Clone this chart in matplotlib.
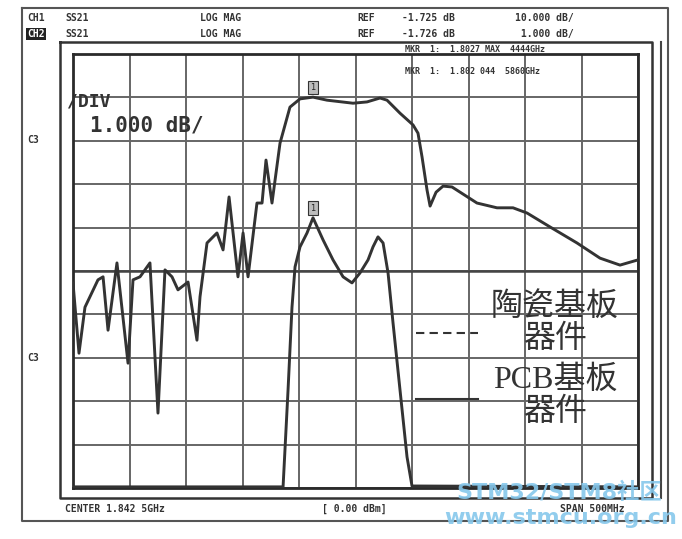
import matplotlib.pyplot as plt
from matplotlib.lines import Line2D

# network analyzer screen: CENTER 1.8425 GHz, SPAN 500 MHz, 1 dB/div, REF -1.726 dB
freq_lo, freq_hi = 1592.5, 2092.5
ref_db = -1.726
db_per_div = 1.0

# upper trace (wide response)
wide_mhz = [1592.5, 1597.8, 1603.1, 1614.6, 1619.1, 1623.5, 1631.4, 1641.2, 1645.6,
            1651.8, 1660.6, 1667.7, 1673.9, 1680.1, 1685.4, 1694.3, 1702.2, 1704.9,
            1711.1, 1719.9, 1725.3, 1730.6, 1738.5, 1743.0, 1747.4, 1755.3, 1759.8,
            1763.3, 1768.6, 1775.7, 1784.5, 1793.4, 1804.9, 1817.3, 1840.3, 1852.7,
            1864.2, 1870.4, 1881.9, 1893.4, 1897.8, 1901.4, 1905.8, 1908.5, 1913.8,
            1920.0, 1927.9, 1950.0, 1967.7, 1981.9, 1994.3, 2014.6, 2038.5, 2058.9,
            2076.6, 2092.5]
wide_db = [-7.00, -8.62, -7.56, -6.93, -6.86, -8.09, -6.54, -8.85, -6.93,
           -6.86, -6.54, -10.00, -6.70, -6.86, -7.16, -6.98, -8.32, -7.32,
           -6.08, -5.85, -6.24, -5.02, -6.86, -5.85, -6.86, -5.16, -5.16,
           -4.17, -5.16, -3.78, -2.95, -2.76, -2.72, -2.79, -2.86, -2.83,
           -2.74, -2.79, -3.09, -3.36, -3.55, -4.10, -4.86, -5.23, -4.91,
           -4.77, -4.79, -5.16, -5.27, -5.27, -5.39, -5.71, -6.08, -6.43,
           -6.59, -6.47]

# lower trace (narrow band)
pcb_mhz = [1592.5, 1778.4, 1782.8, 1786.3, 1789.0, 1793.4, 1799.6, 1804.9, 1813.8,
           1822.6, 1831.5, 1839.4, 1846.5, 1853.6, 1858.0, 1862.4, 1866.9, 1871.3,
           1875.7, 1881.9, 1888.1, 1892.5, 2092.5]
pcb_db = [-11.70, -11.70, -9.47, -7.56, -6.63, -6.17, -5.85, -5.50, -6.01,
          -6.47, -6.86, -7.00, -6.77, -6.47, -6.17, -5.94, -6.08, -6.77,
          -7.92, -9.47, -11.01, -11.68, -11.70]

marker_mhz = 1804.9
marker_db = [-2.72, -5.50]

legend_labels = ["陶瓷基板\n器件", "PCB基板\n器件"]

W, H = 682, 539
ink = "#333333"
grid_c = "#666666"
wm_c = "#86c8ec"


def px(x, y):
    """pixel position (top-left origin) -> figure fraction"""
    return x / W, 1 - y / H


def fig_line(fig, xs, ys, **kw):
    fx = [x / W for x in xs]
    fy = [1 - y / H for y in ys]
    fig.add_artist(Line2D(fx, fy, transform=fig.transFigure, **kw))


def fig_text(fig, x, y, s, **kw):
    fx, fy = px(x, y)
    fig.text(fx, fy, s, **kw)


fig = plt.figure(figsize=(W / 100, H / 100), dpi=100)
fig.patch.set_facecolor("white")

# grid area
ax = fig.add_axes([73 / W, 1 - 488 / H, 565 / W, 434 / H])
ax.set_xlim(freq_lo, freq_hi)
ax.set_ylim(ref_db - 10 * db_per_div, ref_db)
ax.set_xticks([freq_lo + 50 * k for k in range(11)])
ax.set_yticks([ref_db - db_per_div * k for k in range(11)])
ax.tick_params(length=0, labelbottom=False, labelleft=False)
ax.grid(True, color=grid_c, lw=1.4)
ax.axhline(ref_db - 5 * db_per_div, color="#444444", lw=1.8, zorder=2)
for s in ax.spines.values():
    s.set_color("#2a2a2a")
    s.set_linewidth(2)

ax.plot(wide_mhz, wide_db, color=ink, lw=2.1, zorder=3)
ax.plot(pcb_mhz, pcb_db, color=ink, lw=2.1, zorder=3)

for mdb in marker_db:
    ax.annotate("1", (marker_mhz, mdb), xytext=(0, 7), textcoords="offset points",
                ha="center", va="center", fontsize=6, color="#222222",
                bbox=dict(boxstyle="square,pad=0.25", fc="#bdbdbd", ec="#333333", lw=0.8),
                zorder=4)

ax.text(-0.01, 0.89, "/DIV", transform=ax.transAxes, fontsize=13, fontweight="bold",
        family="DejaVu Sans Mono", color="#333333", va="center", ha="left")
ax.text(0.03, 0.835, "1.000 dB/", transform=ax.transAxes, fontsize=15, fontweight="bold",
        family="DejaVu Sans Mono", color="#333333", va="center", ha="left")

# legend drawn in the plot area
fig_line(fig, [416, 478], [333, 333], color=ink, lw=1.5, ls=(0, (4, 2.5)))
fig_line(fig, [416, 478], [399, 399], color=ink, lw=1.5)
cjk = ["Liberation Serif", "Noto Sans CJK SC"]
fig_text(fig, 555, 323, legend_labels[0], ha="center", va="center", fontsize=23,
         family=cjk, color="#333333", linespacing=1.15)
fig_text(fig, 555, 396, legend_labels[1], ha="center", va="center", fontsize=23,
         family=cjk, color="#333333", linespacing=1.15)

# instrument frames
fig_line(fig, [22, 668, 668, 22, 22], [8, 8, 521, 521, 8], color="#555555", lw=1.5)
fig_line(fig, [60, 652, 652, 60, 60], [42, 42, 498, 498, 42], color="#333333", lw=1.8)
fig_line(fig, [661, 661], [42, 498], color="#444444", lw=1.5)

mono = dict(family="DejaVu Sans Mono", fontsize=7, fontweight="bold", color="#333333",
            va="center", ha="left")
fig_text(fig, 27, 18, "CH1", **mono)
fig_text(fig, 27, 34, "CH2", **{**mono, "color": "white"},
         bbox=dict(boxstyle="square,pad=0.1", fc="#222222", ec="none"))
for yy, ref, scale in [(18, "-1.725 dB", "10.000 dB/"), (34, "-1.726 dB", " 1.000 dB/")]:
    fig_text(fig, 65, yy, "SS21", **mono)
    fig_text(fig, 200, yy, "LOG MAG", **mono)
    fig_text(fig, 357, yy, "REF", **mono)
    fig_text(fig, 402, yy, ref, **mono)
    fig_text(fig, 515, yy, scale, **mono)
fig_text(fig, 405, 49, "MKR  1:  1.8027 MAX  4444GHz", **{**mono, "fontsize": 6})
fig_text(fig, 405, 72, "MKR  1:  1.802 044  5860GHz", **{**mono, "fontsize": 6})
fig_text(fig, 27, 140, "C3", **mono)
fig_text(fig, 27, 358, "C3", **mono)
fig_text(fig, 65, 509, "CENTER 1.842 5GHz", **mono)
fig_text(fig, 322, 509, "[ 0.00 dBm]", **mono)
fig_text(fig, 560, 509, "SPAN 500MHz", **mono)

# watermark
fig_text(fig, 559, 492, "STM32/STM8社区", ha="center", va="center", fontsize=16,
         fontweight="bold", family=["DejaVu Sans", "Noto Sans CJK SC"], color=wm_c, alpha=0.9)
fig_text(fig, 561, 518, "www.stmcu.org.cn", ha="center", va="center", fontsize=16,
         fontweight="bold", family="DejaVu Sans", color=wm_c, alpha=0.9)

fig.savefig("out.png", dpi=100, facecolor="white")
